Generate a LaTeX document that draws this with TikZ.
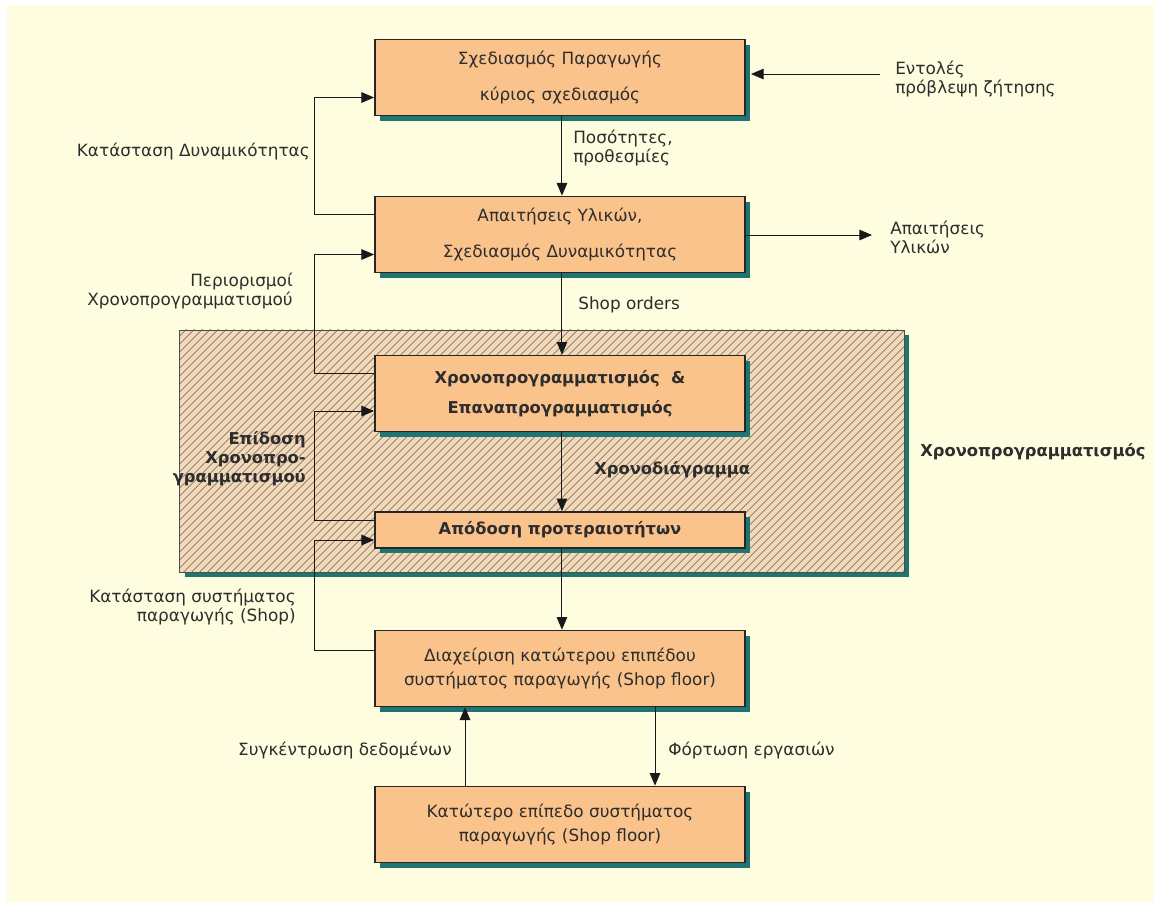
\documentclass[tikz,border=0pt]{standalone}
\usepackage{fontspec}
\setmainfont{DejaVu Sans}
\usetikzlibrary{arrows.meta,shadows,patterns.meta,positioning,calc}

\definecolor{bgc}{RGB}{255,253,223}
\definecolor{boxc}{RGB}{250,195,140}
\definecolor{zonec}{RGB}{242,217,186}
\definecolor{hatchc}{RGB}{110,95,80}
\definecolor{shadowc}{RGB}{30,117,113}
\definecolor{txtc}{RGB}{45,45,45}

\tikzset{
  blok/.style={draw=black!85, line width=1.2pt, fill=boxc, text=txtc,
    minimum width=9.25cm, minimum height=1.9cm, align=center, inner sep=2pt,
    drop shadow={shadow xshift=3.6pt, shadow yshift=-3.6pt, fill=shadowc, opacity=1}},
  zone/.style={draw=black!70, line width=0.6pt, fill=zonec,
    postaction={pattern={Lines[angle=45,distance=4pt,line width=0.5pt]}, pattern color=hatchc},
    drop shadow={shadow xshift=3.6pt, shadow yshift=-3.6pt, fill=shadowc, opacity=1}},
  lbl/.style={text=txtc, inner sep=0pt, font=\fontsize{12}{13.5}\selectfont},
  boldlbl/.style={lbl, font=\fontsize{11.6}{13.5}\selectfont\bfseries},
  arr/.style={-{Triangle[length=9pt,width=7.5pt]}, line width=0.7pt, draw=black!90},
}

\begin{document}
\begin{tikzpicture}[x=0.025cm,y=-0.025cm]
  \useasboundingbox (0,0) rectangle (1154,902);
  \fill[bgc] (7,5) rectangle (1154,902);

  % scheduling zone
  \node[zone, minimum width=18.1cm, minimum height=6.05cm] (zona) at (542,451) {};
  \node[boldlbl, anchor=west] (zonalbl) at (920,452) {Χρονοπρογραμματισμός};

  % main blocks
  \node[blok, font=\fontsize{12}{25}\selectfont] (plan) at (560,77.5) {Σχεδιασμός Παραγωγής\\κύριος σχεδιασμός};
  \node[blok, font=\fontsize{12}{25.5}\selectfont] (ylika) at (560,234.5) {Απαιτήσεις Υλικών,\\Σχεδιασμός Δυναμικότητας};
  \node[blok, font=\fontsize{11.6}{21.3}\selectfont\bfseries] (sched) at (560,393.5) {Χρονοπρογραμματισμός \ \&\\Επαναπρογραμματισμός};
  \node[blok, minimum height=0.9cm, font=\fontsize{11.6}{13.5}\selectfont\bfseries] (prior) at (560,530) {Απόδοση προτεραιοτήτων};
  \node[blok, font=\fontsize{12}{16.4}\selectfont] (diax) at (560,668.5) {Διαχείριση κατώτερου επιπέδου\\συστήματος παραγωγής (Shop floor)};
  \node[blok, font=\fontsize{12}{16.4}\selectfont] (floor) at (560,824.5) {Κατώτερο επίπεδο συστήματος\\παραγωγής (Shop floor)};

  % free ends
  \coordinate (entolIn) at (880,74);
  \coordinate (ylikaOut) at (872,235);

  % labels
  \node[lbl, anchor=west, align=left] (entol) at (895,79) {Εντολές\\πρόβλεψη ζήτησης};
  \node[lbl, anchor=west, align=left] (ylikaLbl) at (890,237) {Απαιτήσεις\\Υλικών};
  \node[lbl, anchor=west, align=left] (posot) at (573,148) {Ποσότητες,\\προθεσμίες};
  \node[lbl, anchor=west] (shopord) at (578,305) {Shop orders};
  \node[boldlbl, anchor=west] (xrono) at (594,470) {Χρονοδιάγραμμα};
  \node[lbl, anchor=east] (katDyn) at (310,152) {Κατάσταση Δυναμικότητας};
  \node[lbl, anchor=east, align=right] (perior) at (293,291) {Περιορισμοί\\Χρονοπρογραμματισμού};
  \node[boldlbl, anchor=east, align=right] (epid) at (306,459) {Επίδοση\\Χρονοπρο-\\γραμματισμού};
  \node[lbl, anchor=east, align=right, font=\fontsize{12}{14}\selectfont] (katSys) at (296,607) {Κατάσταση συστήματος\\παραγωγής (Shop)};
  \node[lbl, anchor=east] (syg) at (452,750) {Συγκέντρωση δεδομένων};
  \node[lbl, anchor=west] (fort) at (668,750) {Φόρτωση εργασιών};

  % vertical flow
  \draw[arr] ([xshift=1.4pt]plan.south) -- ([xshift=1.4pt]ylika.north);
  \draw[arr] ([xshift=1.4pt]ylika.south) -- ([xshift=1.4pt]sched.north);
  \draw[arr] ([xshift=1.4pt]sched.south) -- ([xshift=1.4pt]prior.north);
  \draw[arr] ([xshift=1.4pt]prior.south) -- ([xshift=1.4pt]diax.north);
  \draw[arr] ($(diax.south)+(95,0)$) -- ($(floor.north)+(95,0)$);
  \draw[arr] ($(floor.north)+(-95,0)$) -- ($(diax.south)+(-95,0)$);

  % side in and out
  \draw[arr] (entolIn) -- ([xshift=3.6pt]entolIn -| plan.east);
  \draw[arr] (ylika.east |- ylikaOut) -- (ylikaOut);

  % feedback loops
  \draw[arr] ($(ylika.west)+(0,-20)$) -- ++(-60,0) |- ($(plan.west)+(0,20)$);
  \draw[arr] ($(sched.west)+(0,-20)$) -- ++(-60,0) |- ($(ylika.west)+(0,20)$);
  \draw[arr] ($(prior.west)+(0,-10)$) -- ++(-60,0) |- ($(sched.west)+(0,17.5)$);
  \draw[arr] ($(diax.west)+(0,-18)$) -- ++(-60,0) |- ($(prior.west)+(0,10)$);
\end{tikzpicture}
\end{document}
